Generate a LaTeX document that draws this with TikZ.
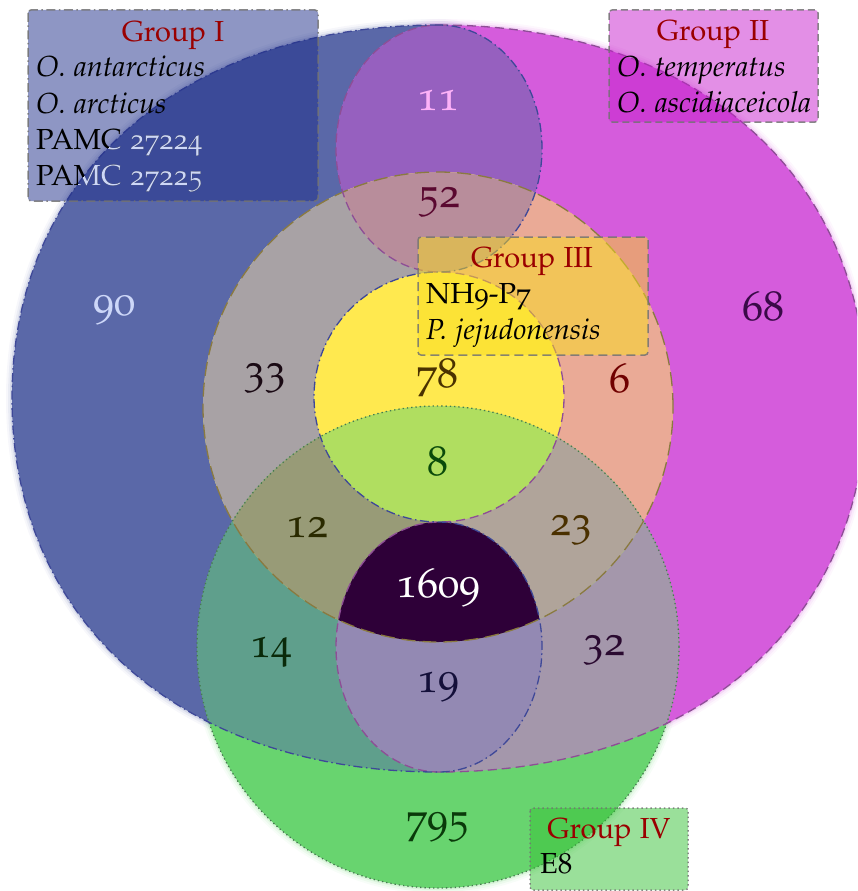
\documentclass[tikz,border=0pt]{standalone}
\usepackage[T1]{fontenc}
\usepackage[osf]{mathpazo}

% region colours
\definecolor{cI}{HTML}{5A68A8}
\definecolor{cII}{HTML}{D55CDC}
\definecolor{cIII}{HTML}{FFE94F}
\definecolor{cIV}{HTML}{68D46F}
\definecolor{cIaII}{HTML}{9660BF}
\definecolor{cIaIII}{HTML}{A8A2A5}
\definecolor{cIIaIII}{HTML}{EAAA96}
\definecolor{cIaIIaIII}{HTML}{B88D9B}
\definecolor{cIIIaIV}{HTML}{B0DE60}
\definecolor{cIaIV}{HTML}{5F9F8C}
\definecolor{cIIaIV}{HTML}{A497AB}
\definecolor{cIaIIaIV}{HTML}{9389B3}
\definecolor{cIaIIIaIV}{HTML}{989B77}
\definecolor{cIIaIIIaIV}{HTML}{B0A49A}
\definecolor{cAll}{HTML}{2E0038}
% outlines
\definecolor{lineI}{HTML}{3E4898}
\definecolor{lineII}{HTML}{8E4E96}
\definecolor{lineIII}{HTML}{8A7A40}
\definecolor{lineIV}{HTML}{467A50}
% legend boxes
\definecolor{boxI}{HTML}{1D2D89}
\definecolor{boxII}{HTML}{C71FCD}
\definecolor{boxIII}{HTML}{FADE1E}
\definecolor{boxIV}{HTML}{35C135}
\definecolor{titlered}{HTML}{9A0000}
\definecolor{lightblue}{HTML}{CDD7F8}
% count colours
\definecolor{nI}{HTML}{CDD7F8}
\definecolor{nII}{HTML}{3A0A48}
\definecolor{nIaII}{HTML}{FDB2F8}
\definecolor{nIaIIaIII}{HTML}{5A0830}
\definecolor{nIaIII}{HTML}{1A0A14}
\definecolor{nIII}{HTML}{4A3200}
\definecolor{nIIaIII}{HTML}{700000}
\definecolor{nIIIaIV}{HTML}{0A4A0A}
\definecolor{nIaIIIaIV}{HTML}{2A2A00}
\definecolor{nIIaIIIaIV}{HTML}{4A3000}
\definecolor{nIaIV}{HTML}{0A2A0A}
\definecolor{nIIaIV}{HTML}{2A0A30}
\definecolor{nIaIIaIV}{HTML}{14103A}
\definecolor{nIV}{HTML}{0A3A0A}

% set outlines (1 unit = 1pt, y grows upwards)
\def\pathI{(439,-25) .. controls (182.8,-25) and (12,-174.4) .. (12,-398.5)
  .. controls (12,-622.6) and (182.8,-772) .. (439,-772)
  arc[start angle=-90, end angle=90, x radius=103, y radius=125]
  arc[start angle=270, end angle=90, radius=125]
  arc[start angle=-90, end angle=90, x radius=103, y radius=123.5] -- cycle}
\def\pathII{(439,-25) .. controls (695.2,-25) and (866,-174.4) .. (866,-398.5)
  .. controls (866,-622.6) and (695.2,-772) .. (439,-772)
  arc[start angle=270, end angle=90, x radius=103, y radius=125]
  arc[start angle=-90, end angle=90, radius=125]
  arc[start angle=270, end angle=90, x radius=103, y radius=123.5] -- cycle}
\def\pathIII{(438,-407) circle[radius=235]}
\def\pathIV{(438,-647) circle[radius=241]}

\tikzset{
  lbl/.style={font=\fontsize{29}{35}\selectfont, inner sep=0pt},
  ttl/.style={lbl, text=titlered, anchor=base},
  ent/.style={lbl, anchor=base west},
  num/.style={font=\fontsize{42}{50}\selectfont, inner sep=0pt, anchor=base},
  setI/.style={draw=lineI, line width=1.3pt, dash pattern=on 9pt off 3.5pt on 1.5pt off 3.5pt},
  setII/.style={draw=lineII, line width=1.3pt, dash pattern=on 9pt off 5pt},
  setIII/.style={draw=lineIII, line width=1.3pt, dash pattern=on 14pt off 7pt},
  setIV/.style={draw=lineIV, line width=1.3pt, dash pattern=on 1.3pt off 3pt},
  legend/.style={rounded corners=3pt, line width=1.5pt, draw=black!55, draw opacity=0.85, fill opacity=0.5},
}

\begin{document}
\begin{tikzpicture}[x=1pt, y=1pt]
\useasboundingbox (0,0) rectangle (857,-891);
\clip (0,0) rectangle (857,-891);

% soft halo round the outer edges
\foreach \w/\o in {12/0.05, 8/0.08, 4/0.15}{
  \draw[cIV, line width=\w pt, opacity=\o] \pathIV;
  \draw[cI, line width=\w pt, opacity=\o] \pathI;
  \draw[cII, line width=\w pt, opacity=\o] \pathII;
}

% regions, from the widest to the most specific
\fill[cI] \pathI;
\fill[cII] \pathII;
\begin{scope}
  \clip \pathI; \fill[cIaII] \pathII;
\end{scope}
\fill[cIII] \pathIII;
\begin{scope}
  \clip \pathIII;
  \fill[cIaIII] \pathI;
  \fill[cIIaIII] \pathII;
  \clip \pathI; \fill[cIaIIaIII] \pathII;
\end{scope}
\fill[cIV] \pathIV;
\begin{scope}
  \clip \pathIV;
  \fill[cIaIV] \pathI;
  \fill[cIIaIV] \pathII;
  \begin{scope}
    \clip \pathI; \fill[cIaIIaIV] \pathII;
  \end{scope}
  \fill[cIIIaIV] \pathIII;
  \clip \pathIII;
  \fill[cIaIIIaIV] \pathI;
  \fill[cIIaIIIaIV] \pathII;
  \clip \pathI; \fill[cAll] \pathII;
\end{scope}

% outlines
\path[setIV] \pathIV;
\path[setIII] \pathIII;
\path[setII] \pathII;
\path[setI] \pathI;

% counts
\node[num, text=nIaII] (n11) at (438,-110) {11};
\node[num, text=nIaIIaIII] (n52) at (439,-207) {52};
\node[num, text=nI] (n90) at (114,-315) {90};
\node[num, text=nII] (n68) at (763,-320) {68};
\node[num, text=nIaIII] (n33) at (265,-383) {33};
\node[num, text=nIII] (n78) at (437,-387) {78};
\node[num, text=nIIaIII] (n6) at (620,-392) {6};
\node[num, text=nIIIaIV] (n8) at (438,-475) {8};
\node[num, text=nIaIIIaIV] (n12) at (307,-537) {12};
\node[num, text=nIIaIIIaIV] (n23) at (571,-535) {23};
\node[num, text=white] (n1609) at (438,-597) {1609};
\node[num, text=nIaIV] (n14) at (271,-657) {14};
\node[num, text=nIIaIV] (n32) at (604,-655) {32};
\node[num, text=nIaIIaIV] (n19) at (438,-692) {19};
\node[num, text=nIV] (n795) at (438,-832) {795};

% legend boxes
\path[legend, fill=boxI, dash pattern=on 9pt off 3.5pt on 1.5pt off 3.5pt] (28,-10) rectangle (318,-201);
\path[legend, fill=boxII, dash pattern=on 7pt off 4pt] (609,-10) rectangle (818,-122);
\path[legend, fill=boxIII, dash pattern=on 9pt off 5pt] (418,-237) rectangle (648,-355);
\path[legend, fill=boxIV, dash pattern=on 1.5pt off 3pt] (530,-808) rectangle (688,-890);

% legend texts
\node[ttl] (g1) at (173,-41.5) {Group I};
\node[ent] (g1a) at (36,-77) {\itshape O. antarcticus};
\node[ent] (g1b) at (36,-113) {\itshape O. arcticus};
\node[ent] (g1c) at (36,-149) {PAMC 27224};
\node[ent] (g1d) at (36,-185) {PAMC 27225};
\begin{scope}
  \clip \pathI;
  \node[ent, text=lightblue] (g1cl) at (36,-149) {PAMC 27224};
  \node[ent, text=lightblue] (g1dl) at (36,-185) {PAMC 27225};
\end{scope}

\node[ttl] (g2) at (713,-41) {Group II};
\node[ent] (g2a) at (617,-76) {\itshape O. temperatus};
\node[ent] (g2b) at (617,-112) {\itshape O. ascidiaceicola};

\node[ttl] (g3) at (532,-267) {Group III};
\node[ent] (g3a) at (426,-303) {NH9-P7};
\node[ent] (g3b) at (426,-339) {\itshape P. jejudonensis};

\node[ttl] (g4) at (609,-838) {Group IV};
\node[ent] (g4a) at (540,-873) {E8};
\end{tikzpicture}
\end{document}
